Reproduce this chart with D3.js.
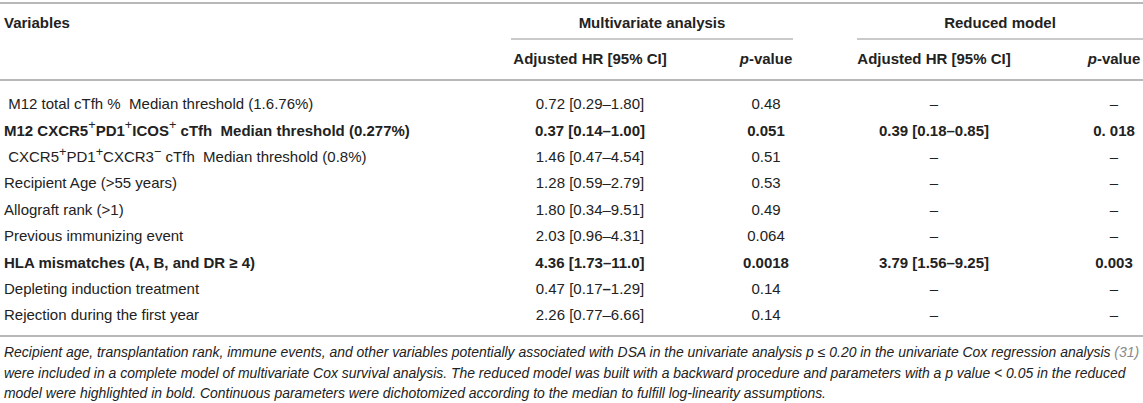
<!DOCTYPE html>
<html lang="en">
<head>
<meta charset="UTF-8">
<title>Multivariate Cox analysis</title>
<style>
    body {
        margin: 0;
        background: #fff;
    }
    svg text {
        font-family: "Liberation Sans", Arial, Helvetica, sans-serif;
        fill: #222;
        white-space: pre;
    }
</style>
</head>
<body>
<div id="table"></div>
<script src="https://d3js.org/d3.v7.min.js"></script>
<script>
    // Table content ("^+" / "^−" mark a superscript sign)
    const variables = [
        " M12 total cTfh %  Median threshold (1.6.76%)",
        "M12 CXCR5^+PD1^+ICOS^+ cTfh  Median threshold (0.277%)",
        " CXCR5^+PD1^+CXCR3^− cTfh  Median threshold (0.8%)",
        "Recipient Age (>55 years)",
        "Allograft rank (>1)",
        "Previous immunizing event",
        "HLA mismatches (A, B, and DR ≥ 4)",
        "Depleting induction treatment",
        "Rejection during the first year"
    ];
    const boldRows = [1, 6];
    const multiHR = ["0.72 [0.29–1.80]", "0.37 [0.14–1.00]", "1.46 [0.47–4.54]", "1.28 [0.59–2.79]",
        "1.80 [0.34–9.51]", "2.03 [0.96–4.31]", "4.36 [1.73–11.0]", "0.47 [0.17–1.29]", "2.26 [0.77–6.66]"];
    const multiP = ["0.48", "0.051", "0.51", "0.53", "0.49", "0.064", "0.0018", "0.14", "0.14"];
    const reducedHR = ["–", "0.39 [0.18–0.85]", "–", "–", "–", "–", "3.79 [1.56–9.25]", "–", "–"];
    const reducedP = ["–", "0. 018", "–", "–", "–", "–", "0.003", "–", "–"];

    const groupHeaders = ["Multivariate analysis", "Reduced model"];
    const subHeaders = ["Adjusted HR [95% CI]", "p-value", "Adjusted HR [95% CI]", "p-value"];

    const footnote = [
        "Recipient age, transplantation rank, immune events, and other variables potentially associated with DSA in the univariate analysis p ≤ 0.20 in the univariate Cox regression analysis |(31)",
        "were included in a complete model of multivariate Cox survival analysis. The reduced model was built with a backward procedure and parameters with a p value < 0.05 in the reduced",
        "model were highlighted in bold. Continuous parameters were dichotomized according to the median to fulfill log-linearity assumptions."
    ];

    const W = 1143, H = 403;
    const fs = 15;
    const lineColor = "#b8b8b8";

    const svg = d3.select("#table")
        .append("svg")
        .attr("width", W)
        .attr("height", H);

    // row and column positions
    const y = d3.scalePoint()
        .domain(d3.range(variables.length))
        .range([104, 315]);

    const colX = d3.scaleOrdinal()
        .domain(d3.range(4))
        .range([590, 766, 934, 1114]);

    const groupSpan = [[511, 793], [857, W]];

    // horizontal rules
    svg.append("g")
        .selectAll("line")
        .data([3, 80, 336])
        .join("line")
        .attr("x1", 0).attr("x2", W)
        .attr("y1", d => d).attr("y2", d => d)
        .attr("stroke", lineColor)
        .attr("stroke-width", 2);

    svg.append("g")
        .selectAll("line")
        .data(groupSpan)
        .join("line")
        .attr("x1", d => d[0]).attr("x2", d => d[1])
        .attr("y1", 39).attr("y2", 39)
        .attr("stroke", lineColor)
        .attr("stroke-width", 1.5);

    // header
    svg.append("text")
        .attr("x", 4).attr("y", 23)
        .attr("dy", "0.35em")
        .attr("font-size", fs)
        .attr("font-weight", "bold")
        .text("Variables");

    svg.append("g")
        .selectAll("text")
        .data(groupHeaders)
        .join("text")
        .attr("x", (d, i) => (groupSpan[i][0] + groupSpan[i][1]) / 2)
        .attr("y", 23)
        .attr("dy", "0.35em")
        .attr("text-anchor", "middle")
        .attr("font-size", fs)
        .attr("font-weight", "bold")
        .text(d => d);

    svg.append("g")
        .selectAll("text")
        .data(subHeaders)
        .join("text")
        .attr("x", (d, i) => colX(i))
        .attr("y", 59)
        .attr("dy", "0.35em")
        .attr("text-anchor", "middle")
        .attr("font-size", fs)
        .attr("font-weight", "bold")
        .each(function(d) {
            const t = d3.select(this);
            if (d.startsWith("p-")) {
                t.append("tspan").attr("font-style", "italic").text("p");
                t.append("tspan").text(d.slice(1));
            } else {
                t.text(d);
            }
        });

    // variable labels with superscripts
    const supShift = fs * 0.42;
    const labels = svg.append("g")
        .selectAll("text")
        .data(variables)
        .join("text")
        .attr("x", 4)
        .attr("y", (d, i) => y(i) + fs * 0.35)
        .attr("font-size", fs)
        .attr("font-weight", (d, i) => boldRows.includes(i) ? "bold" : "normal");

    labels.each(function(d) {
        const t = d3.select(this);
        let raised = false;
        d.split(/(\^[+−])/).forEach(part => {
            if (!part) return;
            if (part[0] === "^") {
                t.append("tspan")
                    .attr("font-size", fs * 0.85)
                    .attr("font-weight", "normal")
                    .attr("dy", raised ? 0 : -supShift)
                    .text(part[1]);
                raised = true;
            } else {
                t.append("tspan")
                    .attr("dy", raised ? supShift : 0)
                    .text(part);
                raised = false;
            }
        });
    });

    // value columns
    const columns = [multiHR, multiP, reducedHR, reducedP];
    columns.forEach((col, c) => {
        svg.append("g")
            .selectAll("text")
            .data(col)
            .join("text")
            .attr("x", colX(c))
            .attr("y", (d, i) => y(i))
            .attr("dy", "0.35em")
            .attr("text-anchor", "middle")
            .attr("font-size", fs)
            .attr("font-weight", (d, i) => boldRows.includes(i) ? "bold" : "normal")
            .each(function(d, i) {
                const t = d3.select(this);
                // the dash in row 8 of the multivariate HR is printed bold
                if (c === 0 && i === 7) {
                    const k = d.indexOf("–");
                    t.append("tspan").text(d.slice(0, k));
                    t.append("tspan").attr("font-weight", "bold").text("–");
                    t.append("tspan").text(d.slice(k + 1));
                } else {
                    t.text(d);
                }
            });
    });

    // footnote
    svg.append("g")
        .selectAll("text")
        .data(footnote)
        .join("text")
        .attr("x", 4)
        .attr("y", (d, i) => 352 + i * 20.8)
        .attr("dy", "0.35em")
        .attr("font-size", 13.95)
        .attr("font-style", "italic")
        .each(function(d) {
            const t = d3.select(this);
            const parts = d.split("|");
            t.append("tspan").text(parts[0]);
            if (parts[1]) t.append("tspan").style("fill", "#888").text(parts[1]);
        });
</script>
</body>
</html>
